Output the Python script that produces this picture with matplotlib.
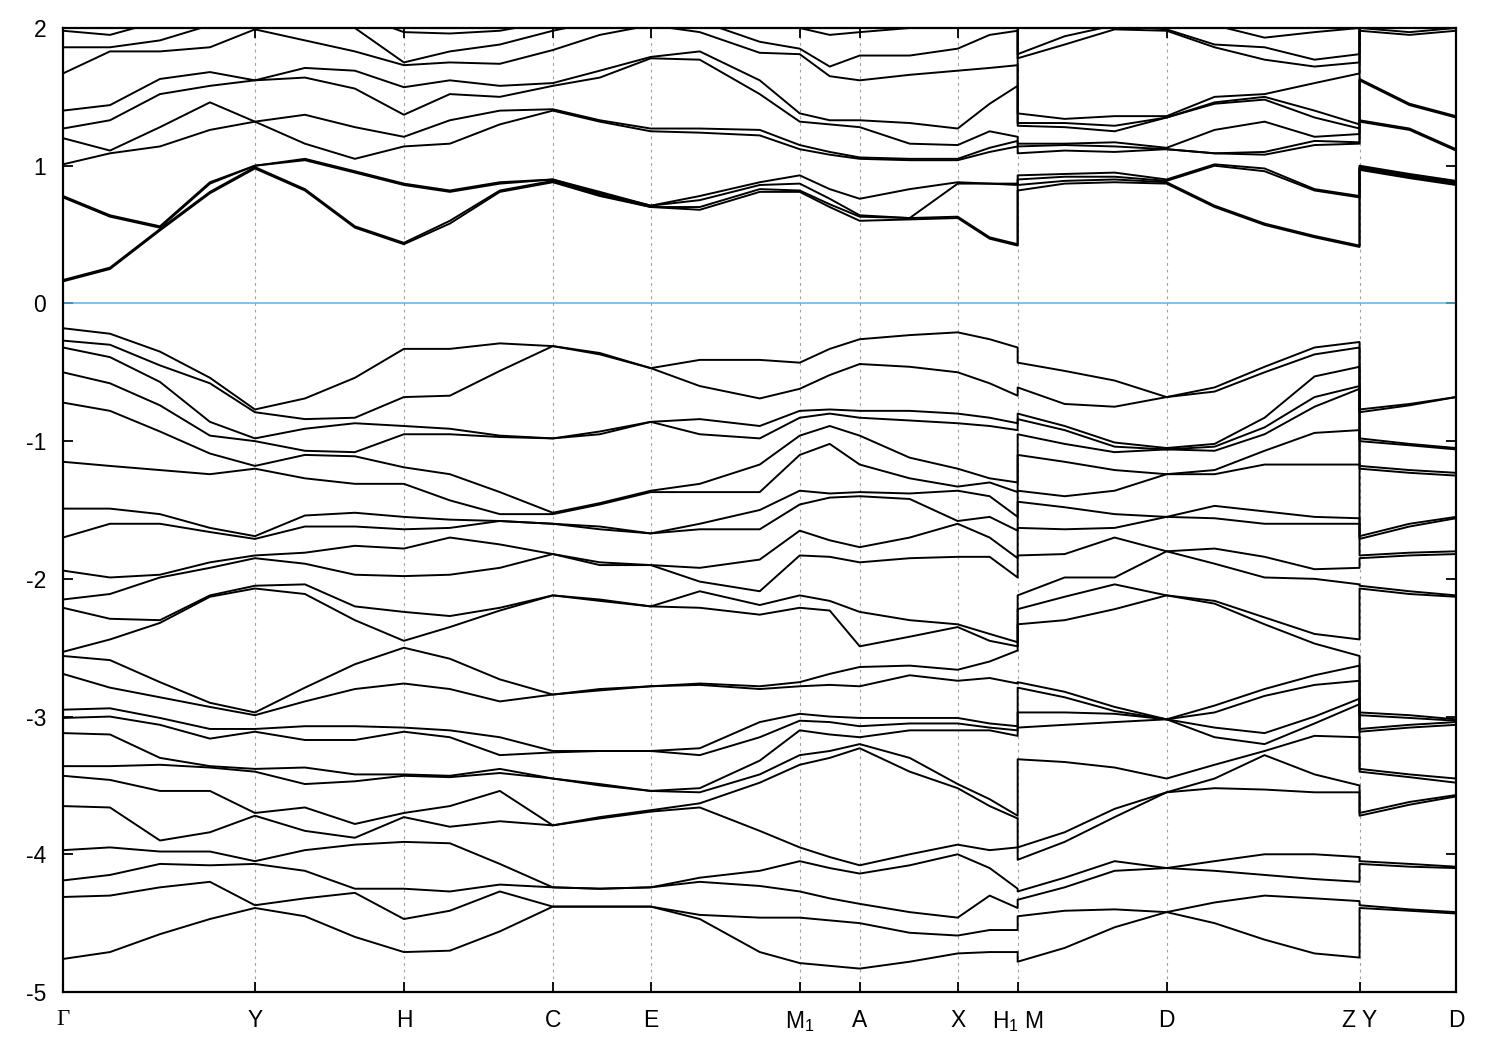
import numpy as np
import matplotlib
matplotlib.use("Agg")
import matplotlib.pyplot as plt

# ---------------- data (k-path distance, energies in eV) ----------------
TICK_K = [0, 192, 341, 490, 588, 737, 797, 895, 955, 1104, 1297, 1393.5]
TICK_LABELS = ["Γ", "Y", "H", "C", "E", "M$_1$", "A", "X", "H$_1$ M", "D", "Z Y", "D"]

K_SEG1 = [0, 47, 97, 147, 192, 242, 292, 341, 387, 437, 490, 537, 588, 637, 697,
          737, 767, 797, 847, 895, 927, 955]
K_SEG2 = [955, 1002, 1052, 1104, 1152, 1202, 1252, 1297]
K_SEG3 = [1297, 1347, 1393.5]

# conduction bands, one list per k column
COND_SEG1 = [
    [0.16, 0.17, 0.77, 0.78, 1.01, 1.20, 1.27, 1.40, 1.67, 1.86, 1.98, 2.10, 2.20, 2.30],
    [0.25, 0.26, 0.63, 0.64, 1.09, 1.11, 1.33, 1.44, 1.83, 1.86, 1.95, 2.10, 2.20, 2.30],
    [0.53, 0.54, 0.55, 0.56, 1.14, 1.28, 1.52, 1.63, 1.83, 1.91, 2.05, 2.15, 2.20, 2.30],
    [0.80, 0.81, 0.87, 0.88, 1.26, 1.46, 1.58, 1.68, 1.86, 2.02, 2.10, 2.20, 2.25, 2.30],
    [0.98, 0.99, 1.00, 1.00, 1.32, 1.32, 1.62, 1.62, 1.99, 2.00, 2.10, 2.20, 2.25, 2.30],
    [0.82, 0.83, 1.04, 1.05, 1.16, 1.37, 1.64, 1.71, 1.91, 2.05, 2.10, 2.20, 2.25, 2.30],
    [0.55, 0.56, 0.95, 0.96, 1.05, 1.28, 1.56, 1.69, 1.83, 2.00, 2.10, 2.20, 2.25, 2.30],
    [0.43, 0.44, 0.86, 0.87, 1.14, 1.21, 1.37, 1.57, 1.73, 1.75, 1.97, 2.10, 2.20, 2.30],
    [0.58, 0.60, 0.81, 0.82, 1.16, 1.33, 1.52, 1.62, 1.75, 1.83, 1.96, 2.10, 2.20, 2.30],
    [0.81, 0.82, 0.87, 0.88, 1.30, 1.40, 1.50, 1.58, 1.74, 1.88, 1.98, 2.10, 2.20, 2.30],
    [0.88, 0.89, 0.90, 0.90, 1.40, 1.41, 1.58, 1.60, 1.84, 1.98, 2.05, 2.10, 2.20, 2.30],
    [0.78, 0.79, 0.80, 0.81, 1.32, 1.33, 1.64, 1.69, 1.95, 2.05, 2.08, 2.10, 2.20, 2.30],
    [0.70, 0.70, 0.71, 0.71, 1.25, 1.27, 1.78, 1.79, 2.02, 2.05, 2.10, 2.15, 2.20, 2.30],
    [0.68, 0.70, 0.75, 0.78, 1.24, 1.27, 1.77, 1.83, 1.97, 2.05, 2.10, 2.15, 2.20, 2.30],
    [0.81, 0.83, 0.86, 0.88, 1.22, 1.26, 1.52, 1.62, 1.82, 1.90, 2.05, 2.10, 2.20, 2.30],
    [0.81, 0.82, 0.87, 0.93, 1.12, 1.15, 1.32, 1.38, 1.81, 1.85, 2.00, 2.10, 2.20, 2.30],
    [0.70, 0.72, 0.76, 0.83, 1.08, 1.10, 1.30, 1.33, 1.65, 1.72, 1.95, 2.10, 2.20, 2.30],
    [0.60, 0.63, 0.64, 0.76, 1.05, 1.06, 1.28, 1.33, 1.62, 1.80, 1.97, 2.10, 2.20, 2.30],
    [0.61, 0.62, 0.62, 0.83, 1.04, 1.05, 1.16, 1.31, 1.66, 1.80, 2.00, 2.10, 2.20, 2.30],
    [0.62, 0.63, 0.87, 0.88, 1.04, 1.05, 1.15, 1.27, 1.69, 1.85, 2.05, 2.10, 2.20, 2.30],
    [0.47, 0.48, 0.87, 0.87, 1.10, 1.13, 1.25, 1.45, 1.71, 1.95, 2.05, 2.10, 2.20, 2.30],
    [0.42, 0.43, 0.86, 0.87, 1.14, 1.18, 1.21, 1.58, 1.73, 1.98, 2.05, 2.10, 2.20, 2.30],
]
COND_SEG2 = [
    [0.82, 0.86, 0.90, 0.93, 1.09, 1.14, 1.16, 1.29, 1.31, 1.38, 1.78, 1.81, 2.20, 2.30],
    [0.87, 0.89, 0.92, 0.94, 1.11, 1.15, 1.16, 1.28, 1.31, 1.34, 1.88, 1.94, 2.20, 2.30],
    [0.88, 0.90, 0.92, 0.95, 1.10, 1.14, 1.17, 1.25, 1.29, 1.36, 1.99, 2.02, 2.20, 2.30],
    [0.87, 0.88, 0.89, 0.90, 1.12, 1.12, 1.13, 1.35, 1.35, 1.36, 1.98, 1.99, 2.20, 2.30],
    [0.70, 0.71, 1.00, 1.01, 1.09, 1.09, 1.26, 1.45, 1.46, 1.50, 1.86, 1.88, 2.02, 2.30],
    [0.57, 0.58, 0.96, 0.98, 1.08, 1.10, 1.32, 1.48, 1.50, 1.52, 1.77, 1.86, 1.93, 2.30],
    [0.48, 0.49, 0.82, 0.83, 1.15, 1.18, 1.21, 1.35, 1.40, 1.60, 1.72, 1.77, 1.97, 2.30],
    [0.41, 0.42, 0.77, 0.78, 1.16, 1.17, 1.23, 1.27, 1.30, 1.67, 1.75, 1.81, 2.00, 2.30],
]
COND_SEG3 = [
    [0.97, 0.98, 0.99, 1.00, 1.32, 1.33, 1.62, 1.63, 1.98, 2.00, 2.10, 2.15, 2.20, 2.30],
    [0.91, 0.92, 0.93, 0.94, 1.26, 1.27, 1.44, 1.45, 1.95, 1.97, 2.10, 2.15, 2.20, 2.30],
    [0.86, 0.87, 0.88, 0.89, 1.11, 1.12, 1.35, 1.36, 1.98, 2.00, 2.10, 2.15, 2.20, 2.30],
]

# valence bands, one list per k column
VAL_SEG1 = [
    [-0.18, -0.27, -0.32, -0.50, -0.72, -1.15, -1.49, -1.70, -1.94, -2.15, -2.21, -2.53,
     -2.56, -2.69, -2.95, -3.01, -3.12, -3.36, -3.43, -3.65, -3.97, -4.19, -4.31, -4.76],
    [-0.22, -0.30, -0.39, -0.58, -0.78, -1.18, -1.49, -1.60, -1.99, -2.11, -2.29, -2.44,
     -2.59, -2.79, -2.94, -3.00, -3.13, -3.36, -3.46, -3.66, -3.95, -4.15, -4.30, -4.71],
    [-0.35, -0.45, -0.57, -0.74, -0.93, -1.21, -1.53, -1.60, -1.97, -1.99, -2.30, -2.32,
     -2.75, -2.86, -3.01, -3.06, -3.30, -3.35, -3.54, -3.90, -3.98, -4.07, -4.24, -4.58],
    [-0.54, -0.58, -0.86, -0.96, -1.09, -1.24, -1.63, -1.66, -1.88, -1.92, -2.12, -2.13,
     -2.90, -2.93, -3.09, -3.16, -3.36, -3.37, -3.54, -3.84, -3.98, -4.08, -4.20, -4.47],
    [-0.77, -0.79, -0.98, -1.00, -1.18, -1.20, -1.69, -1.71, -1.83, -1.85, -2.05, -2.07,
     -2.97, -2.99, -3.09, -3.11, -3.38, -3.40, -3.70, -3.72, -4.05, -4.07, -4.37, -4.39],
    [-0.69, -0.84, -0.91, -1.07, -1.10, -1.27, -1.54, -1.62, -1.81, -1.89, -2.04, -2.11,
     -2.79, -2.89, -3.07, -3.17, -3.37, -3.49, -3.66, -3.83, -3.97, -4.12, -4.32, -4.45],
    [-0.54, -0.83, -0.87, -1.08, -1.11, -1.31, -1.52, -1.62, -1.76, -1.97, -2.20, -2.30,
     -2.62, -2.80, -3.07, -3.17, -3.42, -3.47, -3.78, -3.88, -3.93, -4.25, -4.28, -4.60],
    [-0.33, -0.68, -0.89, -0.95, -1.19, -1.31, -1.55, -1.64, -1.78, -1.98, -2.24, -2.45,
     -2.50, -2.76, -3.08, -3.11, -3.42, -3.43, -3.70, -3.73, -3.91, -4.25, -4.47, -4.71],
    [-0.33, -0.67, -0.91, -0.95, -1.24, -1.43, -1.57, -1.63, -1.70, -1.97, -2.27, -2.35,
     -2.58, -2.80, -3.10, -3.15, -3.43, -3.44, -3.65, -3.80, -3.92, -4.27, -4.41, -4.70],
    [-0.29, -0.49, -0.96, -0.97, -1.37, -1.53, -1.58, -1.58, -1.75, -1.92, -2.21, -2.23,
     -2.73, -2.89, -3.15, -3.28, -3.38, -3.41, -3.54, -3.76, -4.07, -4.22, -4.27, -4.56],
    [-0.31, -0.31, -0.98, -0.98, -1.52, -1.53, -1.60, -1.60, -1.82, -1.82, -2.12, -2.12,
     -2.84, -2.84, -3.25, -3.26, -3.45, -3.45, -3.79, -3.79, -4.24, -4.24, -4.38, -4.38],
    [-0.36, -0.37, -0.93, -0.95, -1.45, -1.46, -1.62, -1.64, -1.88, -1.90, -2.15, -2.16,
     -2.80, -2.81, -3.25, -3.25, -3.49, -3.50, -3.73, -3.74, -4.25, -4.25, -4.38, -4.38],
    [-0.47, -0.47, -0.86, -0.86, -1.36, -1.37, -1.67, -1.67, -1.90, -1.90, -2.20, -2.20,
     -2.78, -2.78, -3.25, -3.25, -3.54, -3.54, -3.68, -3.69, -4.24, -4.24, -4.38, -4.38],
    [-0.41, -0.60, -0.84, -0.95, -1.31, -1.37, -1.60, -1.64, -1.92, -2.02, -2.09, -2.21,
     -2.76, -2.77, -3.23, -3.28, -3.52, -3.55, -3.63, -3.66, -4.17, -4.20, -4.44, -4.47],
    [-0.41, -0.69, -0.89, -0.98, -1.17, -1.37, -1.50, -1.64, -1.86, -2.09, -2.19, -2.26,
     -2.78, -2.80, -3.04, -3.15, -3.32, -3.42, -3.48, -3.83, -4.12, -4.23, -4.46, -4.71],
    [-0.43, -0.62, -0.78, -0.83, -0.96, -1.10, -1.36, -1.46, -1.65, -1.83, -2.12, -2.21,
     -2.75, -2.78, -2.98, -3.03, -3.10, -3.28, -3.35, -3.95, -4.05, -4.27, -4.46, -4.79],
    [-0.33, -0.52, -0.77, -0.80, -0.89, -1.02, -1.38, -1.41, -1.72, -1.84, -2.16, -2.23,
     -2.69, -2.77, -3.00, -3.04, -3.13, -3.25, -3.30, -4.02, -4.10, -4.32, -4.48, -4.81],
    [-0.26, -0.44, -0.78, -0.83, -0.96, -1.17, -1.37, -1.40, -1.77, -1.88, -2.24, -2.49,
     -2.64, -2.78, -3.01, -3.07, -3.15, -3.20, -3.23, -4.08, -4.14, -4.36, -4.50, -4.83],
    [-0.23, -0.46, -0.78, -0.85, -1.12, -1.27, -1.38, -1.42, -1.70, -1.85, -2.30, -2.42,
     -2.63, -2.70, -3.01, -3.05, -3.10, -3.30, -3.40, -4.00, -4.08, -4.42, -4.57, -4.78],
    [-0.21, -0.50, -0.80, -0.87, -1.20, -1.33, -1.36, -1.58, -1.60, -1.84, -2.33, -2.35,
     -2.66, -2.74, -3.01, -3.05, -3.10, -3.49, -3.52, -3.93, -4.00, -4.46, -4.59, -4.72],
    [-0.26, -0.58, -0.83, -0.89, -1.27, -1.30, -1.40, -1.55, -1.70, -1.84, -2.40, -2.45,
     -2.60, -2.72, -3.05, -3.08, -3.10, -3.60, -3.65, -3.97, -4.10, -4.30, -4.55, -4.71],
    [-0.32, -0.67, -0.87, -0.92, -1.30, -1.37, -1.55, -1.65, -1.85, -1.99, -2.46, -2.49,
     -2.52, -2.76, -3.07, -3.10, -3.14, -3.72, -3.74, -3.95, -4.25, -4.39, -4.55, -4.71],
]
VAL_SEG2 = [
    [-0.43, -0.61, -0.80, -0.84, -0.95, -1.10, -1.36, -1.44, -1.63, -1.83, -2.12, -2.22,
     -2.33, -2.75, -2.79, -2.97, -3.08, -3.31, -3.95, -4.04, -4.27, -4.33, -4.45, -4.78],
    [-0.49, -0.73, -0.89, -0.92, -1.02, -1.15, -1.40, -1.48, -1.64, -1.82, -1.99, -2.13,
     -2.30, -2.82, -2.86, -2.97, -3.06, -3.33, -3.84, -3.91, -4.17, -4.24, -4.41, -4.68],
    [-0.56, -0.75, -1.01, -1.04, -1.08, -1.21, -1.36, -1.53, -1.63, -1.70, -1.99, -2.04,
     -2.22, -2.93, -2.96, -2.98, -3.04, -3.37, -3.67, -3.73, -4.05, -4.12, -4.40, -4.53],
    [-0.68, -0.68, -1.05, -1.06, -1.06, -1.24, -1.24, -1.55, -1.55, -1.80, -1.80, -2.12,
     -2.12, -3.02, -3.02, -3.02, -3.02, -3.45, -3.55, -3.55, -4.10, -4.10, -4.42, -4.42],
    [-0.61, -0.64, -1.02, -1.07, -1.04, -1.21, -1.24, -1.47, -1.56, -1.78, -1.89, -2.16,
     -2.18, -2.92, -2.97, -3.08, -3.15, -3.35, -3.45, -3.52, -4.12, -4.05, -4.35, -4.50],
    [-0.46, -0.50, -0.83, -0.90, -0.95, -1.07, -1.17, -1.51, -1.60, -1.84, -1.99, -2.28,
     -2.33, -2.80, -2.85, -3.12, -3.28, -3.20, -3.25, -3.53, -4.15, -4.00, -4.30, -4.62],
    [-0.32, -0.37, -0.53, -0.68, -0.75, -0.94, -1.17, -1.55, -1.60, -1.93, -2.00, -2.40,
     -2.47, -2.70, -2.77, -3.14, -3.42, -3.00, -3.05, -3.55, -4.18, -4.00, -4.32, -4.72],
    [-0.28, -0.32, -0.46, -0.62, -0.60, -0.92, -1.17, -1.56, -1.60, -1.92, -2.04, -2.44,
     -2.56, -2.63, -2.74, -3.15, -3.50, -2.87, -2.91, -3.55, -4.20, -4.02, -4.34, -4.75],
]
VAL_SEG3 = [
    [-0.77, -0.79, -0.98, -1.00, -1.18, -1.20, -1.69, -1.71, -1.83, -1.85, -2.05, -2.07,
     -2.97, -2.99, -3.09, -3.11, -3.38, -3.40, -3.70, -3.72, -4.05, -4.07, -4.37, -4.39],
    [-0.73, -0.74, -1.02, -1.03, -1.21, -1.23, -1.60, -1.62, -1.81, -1.83, -2.09, -2.11,
     -2.99, -3.01, -3.06, -3.08, -3.42, -3.44, -3.62, -3.64, -4.07, -4.09, -4.40, -4.41],
    [-0.68, -0.68, -1.05, -1.06, -1.23, -1.25, -1.55, -1.56, -1.80, -1.82, -2.12, -2.13,
     -3.02, -3.03, -3.04, -3.06, -3.45, -3.48, -3.57, -3.58, -4.09, -4.10, -4.42, -4.43],
]

Y_TICKS = [2, 1, 0, -1, -2, -3, -4, -5]

# ---------------- style ----------------
plt.rcParams["font.family"] = ["Liberation Sans", "DejaVu Sans"]
plt.rcParams["mathtext.fontset"] = "custom"
plt.rcParams["mathtext.rm"] = "Liberation Sans"
plt.rcParams["mathtext.it"] = "Liberation Sans:italic"
plt.rcParams["axes.unicode_minus"] = False

W, H = 1500, 1050
fig = plt.figure(figsize=(W / 100, H / 100), dpi=100)
ax = fig.add_axes([63 / W, 1 - 992 / H, (1456 - 63) / W, (992 - 28) / H])


def to_bands(cols):
    arr = np.sort(np.array(cols, dtype=float), axis=1)
    return arr.T


k_all = np.concatenate([K_SEG1, K_SEG2, K_SEG3])
for segs in [(COND_SEG1, COND_SEG2, COND_SEG3), (VAL_SEG1, VAL_SEG2, VAL_SEG3)]:
    b1, b2, b3 = (to_bands(s) for s in segs)
    for i in range(b1.shape[0]):
        e = np.concatenate([b1[i], b2[i], b3[i]])
        ax.plot(k_all, e, color="black", lw=1.4, solid_joinstyle="round", zorder=3)

# Fermi level
ax.axhline(0, color="#56b4e9", lw=1.1, zorder=2)

# vertical dotted lines at high-symmetry points
for kk in TICK_K[1:-1]:
    ax.axvline(kk, color="#a0a0a0", lw=0.8, ls=(0, (2.5, 3.5)), zorder=1)

ax.set_xlim(TICK_K[0], TICK_K[-1])
ax.set_ylim(-5, 2)
ax.set_xticks(TICK_K)
ax.set_xticklabels(TICK_LABELS)
ax.set_yticks(Y_TICKS)
ax.set_yticklabels([str(v) for v in Y_TICKS])
ax.tick_params(axis="both", direction="in", length=7.5, width=1.3,
               top=True, right=True, labelsize=16.5, colors="black")
ax.tick_params(axis="x", pad=12)
ax.tick_params(axis="y", pad=12)
ax.get_xticklabels()[0].set_fontfamily(["Liberation Serif", "DejaVu Serif"])
for sp in ax.spines.values():
    sp.set_linewidth(1.6)
    sp.set_color("black")

fig.savefig("out.png", dpi=100, facecolor="white")
